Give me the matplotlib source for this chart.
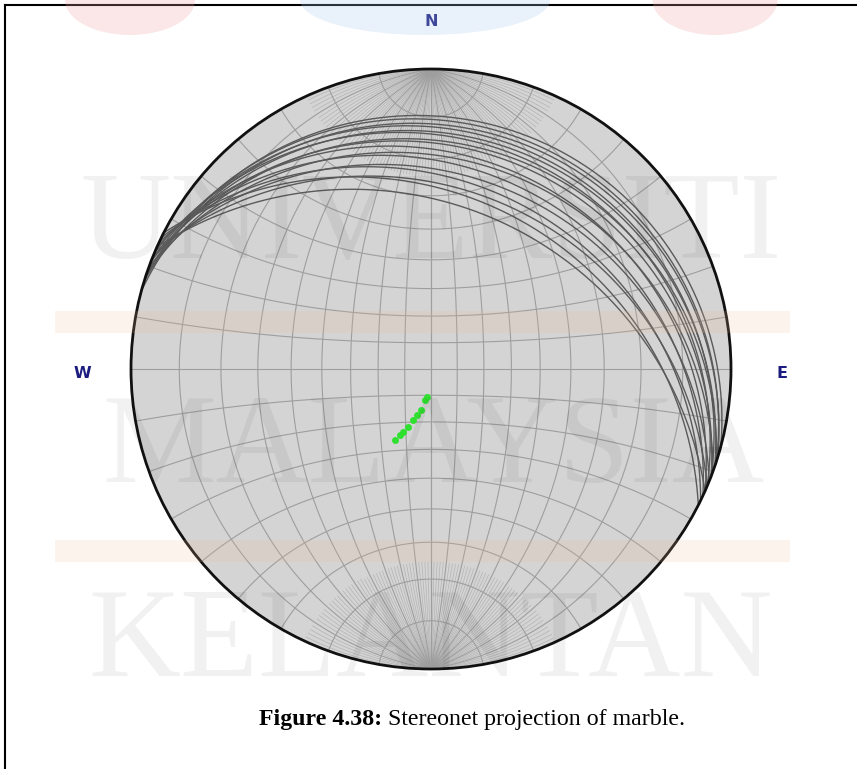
import numpy as np
import matplotlib.pyplot as plt
from matplotlib.lines import Line2D
from matplotlib.patches import Circle, Ellipse

# planes (great circles): dip direction / dip, degrees
plane_dipdir = [15, 18, 17, 21, 19, 23, 18, 21, 24, 20, 25, 22, 26, 23, 27, 24]
plane_dip = [10, 11, 12, 13, 14, 15, 16, 17, 19, 20, 22, 24, 26, 28, 30, 33]

# poles (green points): trend / plunge, degrees
pole_trend = [188.8, 191, 194, 197.3, 199.4, 201.7, 204, 205, 207]
pole_plunge = [79.3, 78, 74, 71.8, 69.6, 66.6, 64.2, 62.7, 60.3]

compass = ["N", "E", "W"]
caption_bold = "Figure 4.38:"
caption_rest = " Stereonet projection of marble."
watermark = ["UNIVERSITI", "MALAYSIA", "KELANTAN"]

W, H = 857, 769
CX, CY, R = 431, 369, 300

GRID = "#9e9e9e"


def proj(e, n, d):
    # lower hemisphere, equal angle (Wulff)
    return e / (1 + d), n / (1 + d)


def great_circle(dd, dip, n=361):
    dd, dip = np.radians(dd), np.radians(dip)
    lam = np.linspace(0, np.pi, n)
    s = np.array([np.sin(dd - np.pi / 2), np.cos(dd - np.pi / 2), 0.0])
    dv = np.array([np.cos(dip) * np.sin(dd), np.cos(dip) * np.cos(dd), np.sin(dip)])
    v = np.outer(np.cos(lam), s) + np.outer(np.sin(lam), dv)
    return v[:, 0], v[:, 1], v[:, 2]


def small_circle_ns(alpha, n=361):
    a = np.radians(alpha)
    phi = np.linspace(0, np.pi, n)
    return np.sin(a) * np.cos(phi), np.full_like(phi, np.cos(a)), np.sin(a) * np.sin(phi)


fig = plt.figure(figsize=(W / 100, H / 100), dpi=100)
ax = fig.add_axes([0, 0, 1, 1])
ax.set_xlim(-CX / R, (W - CX) / R)
ax.set_ylim(-(H - CY) / R, CY / R)
ax.axis("off")

ax.add_patch(Circle((0, 0), 1, facecolor="#d4d4d4", edgecolor="none", zorder=0))

# 10 degree meridians
for dd in (90, 270):
    for dp in range(10, 91, 10):
        e, n, d = great_circle(dd, dp)
        x, y = proj(e, n, d)
        ax.plot(x, y, color=GRID, lw=0.8, zorder=1)
# fan of finer meridians near the poles
for dd in (90, 270):
    for dp in range(2, 90, 2):
        if dp % 10 == 0:
            continue
        e, n, d = great_circle(dd, dp)
        x, y = proj(e, n, d)
        x = np.where(np.abs(n) > np.cos(np.radians(25)), x, np.nan)
        ax.plot(x, y, color=GRID, lw=0.5, alpha=0.6, zorder=1)
# small circles about N-S axis
for a in range(10, 171, 10):
    e, n, d = small_circle_ns(a)
    x, y = proj(e, n, d)
    ax.plot(x, y, color=GRID, lw=0.8, zorder=1)

for dd, dp in zip(plane_dipdir, plane_dip):
    e, n, d = great_circle(dd, dp)
    x, y = proj(e, n, d)
    ax.plot(x, y, color="#5a5a5a", lw=1.0, zorder=2)

t = np.radians(pole_trend)
p = np.radians(pole_plunge)
px, py = proj(np.cos(p) * np.sin(t), np.cos(p) * np.cos(t), np.sin(p))
ax.plot(px, py, "o", color="#30e030", ms=5, mec="none", zorder=3)

ax.add_patch(Circle((0, 0), 1, facecolor="none", edgecolor="#111111", lw=2.0, zorder=4))

lab = dict(color="#1c1c80", fontsize=11.5, fontweight="bold", ha="center", va="center",
           family="Liberation Sans Narrow")
fig.text(431 / W, 1 - 22 / H, compass[0], **lab)
fig.text(782 / W, 1 - 373 / H, compass[1], **lab)
fig.text(82 / W, 1 - 373 / H, compass[2], **lab)

# watermark of the source document
wm = [(watermark[0], 431, 258, 90), (watermark[1], 433, 482, 92), (watermark[2], 431, 676, 92)]
for txt, xx, yy, fs in wm:
    fig.text(xx / W, 1 - yy / H, txt, fontsize=fs, family="Liberation Serif",
             color="black", alpha=0.055, ha="center", va="baseline", zorder=10)
for yy in (322, 551):
    fig.add_artist(plt.Rectangle((55 / W, 1 - (yy + 11) / H), 735 / W, 22 / H,
                                 transform=fig.transFigure, color="#e8b890", alpha=0.17,
                                 lw=0, zorder=9))
for xx, ww, col in ((130, 130, "#f0a0a0"), (425, 250, "#a8c8f0"), (715, 125, "#f0a0a0")):
    fig.add_artist(Ellipse((xx / W, 1), ww / W, 70 / H, transform=fig.transFigure,
                           color=col, alpha=0.25, lw=0, zorder=9))

# frame lines (left and top)
fig.add_artist(Line2D([4.5 / W, 4.5 / W], [0, 1 - 5 / H], color="black", lw=1.5))
fig.add_artist(Line2D([4.5 / W, 1], [1 - 5 / H, 1 - 5 / H], color="black", lw=1.5))

# caption
cap_y = 1 - 719 / H
r = fig.canvas.get_renderer()
t1 = fig.text(259 / W, cap_y, caption_bold, fontsize=17.2, fontweight="bold",
              family="Liberation Serif", va="center")
bb = t1.get_window_extent(renderer=r)
fig.text(bb.x1 / W, cap_y, caption_rest, fontsize=17.2, family="Liberation Serif", va="center")

fig.savefig("out.png", dpi=100, facecolor="white")
